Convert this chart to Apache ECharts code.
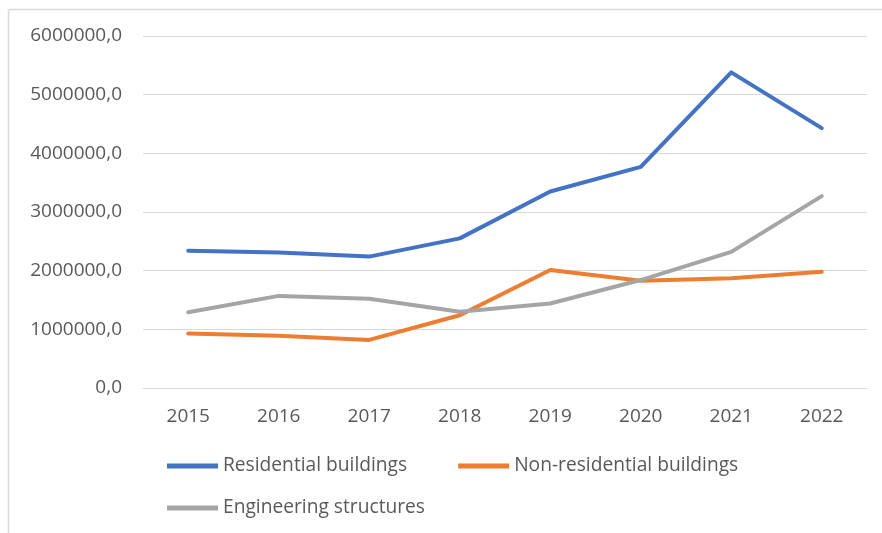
<!DOCTYPE html>
<html>
<head>
<meta charset="utf-8">
<script src="https://cdn.jsdelivr.net/npm/echarts@6/dist/echarts.min.js"></script>
<style>
  html, body { margin: 0; padding: 0; background: #ffffff; }
  #chart { width: 882px; height: 533px; }
</style>
</head>
<body>
<div id="chart"></div>
<script>
// Years on the category axis
const years = ['2015', '2016', '2017', '2018', '2019', '2020', '2021', '2022'];

// Series values
const residential = [2340000, 2310000, 2240000, 2550000, 3350000, 3770000, 5380000, 4430000];
const nonResidential = [930000, 890000, 820000, 1240000, 2010000, 1830000, 1870000, 1980000];
const engineering = [1290000, 1570000, 1520000, 1300000, 1440000, 1840000, 2320000, 3270000];

const seriesNames = ['Residential buildings', 'Non-residential buildings', 'Engineering structures'];
const seriesColors = ['#4472C4', '#ED7D31', '#A5A5A5'];

const textColor = '#595959';
const fontFamily = '"Open Sans", Lato, sans-serif';

const chart = echarts.init(document.getElementById('chart'), null, { renderer: 'canvas' });

function lineSeries(name, data, color) {
  return {
    name: name,
    type: 'line',
    data: data,
    symbol: 'none',
    smooth: false,
    lineStyle: { width: 4, color: color, cap: 'round', join: 'round' },
    itemStyle: { color: color }
  };
}

const legendText = { color: textColor, fontSize: 19.2, fontFamily: fontFamily, lineHeight: 20 };

chart.setOption({
  animation: false,
  backgroundColor: '#ffffff',
  grid: { left: 143, right: 15, top: 36, bottom: 145 },
  xAxis: {
    type: 'category',
    data: years,
    boundaryGap: true,
    axisLine: { show: true, lineStyle: { color: '#D9D9D9', width: 1 } },
    axisTick: { show: false },
    axisLabel: { color: textColor, fontSize: 19, fontFamily: fontFamily, margin: 19 }
  },
  yAxis: {
    type: 'value',
    min: 0,
    max: 6000000,
    interval: 1000000,
    axisLine: { show: false },
    axisTick: { show: false },
    splitLine: { lineStyle: { color: '#D9D9D9', width: 1 } },
    axisLabel: {
      color: textColor,
      fontSize: 19,
      fontFamily: fontFamily,
      margin: 21,
      formatter: function (v) { return v.toFixed(1).replace('.', ','); }
    }
  },
  legend: [
    {
      data: [seriesNames[0], seriesNames[1]],
      left: 167,
      top: 456,
      padding: 0,
      icon: 'rect',
      itemWidth: 51,
      itemHeight: 5,
      itemGap: 51,
      textStyle: legendText
    },
    {
      data: [seriesNames[2]],
      left: 167,
      top: 498,
      padding: 0,
      icon: 'rect',
      itemWidth: 51,
      itemHeight: 5,
      textStyle: legendText
    }
  ],
  graphic: [
    // thin frame along the top and left edges of the chart area
    { type: 'line', shape: { x1: 8.5, y1: 9.5, x2: 882, y2: 9.5 }, style: { stroke: '#D9D9D9', lineWidth: 1.5 } },
    { type: 'line', shape: { x1: 8.5, y1: 9.5, x2: 8.5, y2: 533 }, style: { stroke: '#D9D9D9', lineWidth: 1.5 } }
  ],
  series: [
    lineSeries(seriesNames[0], residential, seriesColors[0]),
    lineSeries(seriesNames[1], nonResidential, seriesColors[1]),
    lineSeries(seriesNames[2], engineering, seriesColors[2])
  ]
});
</script>
</body>
</html>
